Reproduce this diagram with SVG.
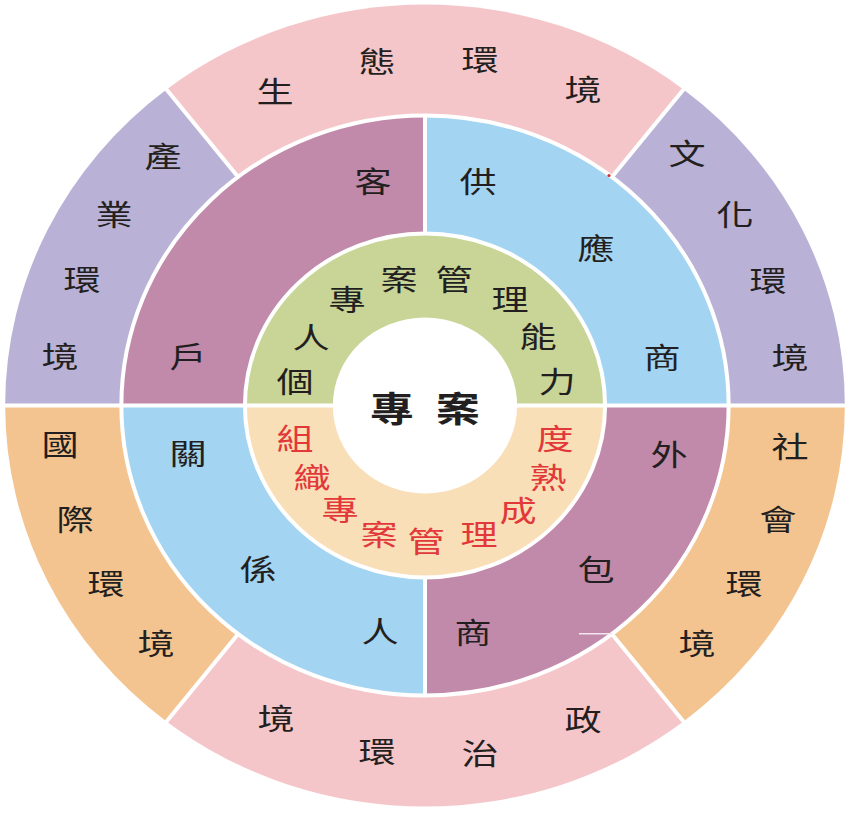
<svg xmlns="http://www.w3.org/2000/svg" width="850" height="813" viewBox="0 0 850 813">
<style>
.t{font-family:"Noto Sans CJK TC","Noto Sans CJK SC",sans-serif;font-size:29px;fill:#231F20;text-anchor:middle;dominant-baseline:central}
.r{fill:#E2383A}
.c{font-size:35px;font-weight:700}
.gap{fill:none;stroke:#FFFFFF;stroke-width:4;vector-effect:non-scaling-stroke}
.pink{fill:#F5C6C9}.lav{fill:#B9B2D6}.org{fill:#F3C48F}.mauve{fill:#C28AAA}.blue{fill:#A3D4F2}.green{fill:#C9D597}.peach{fill:#F9DFB7}
</style>
<rect width="850" height="813" fill="#FFFFFF"/>
<g id="shapes" transform="translate(425,405.5) scale(1.047,1)">
  <path id="outer-top" class="pink" d="M0,0 L-246.9,-316 A401,401 0 0 1 246.9,-316 Z"/>
  <path id="outer-upper-right" class="lav" d="M0,0 L246.9,-316 A401,401 0 0 1 401,0 Z"/>
  <path id="outer-lower-right" class="org" d="M0,0 L401,0 A401,401 0 0 1 246.9,316 Z"/>
  <path id="outer-bottom" class="pink" d="M0,0 L246.9,316 A401,401 0 0 1 -246.9,316 Z"/>
  <path id="outer-lower-left" class="org" d="M0,0 L-246.9,316 A401,401 0 0 1 -401,0 Z"/>
  <path id="outer-upper-left" class="lav" d="M0,0 L-401,0 A401,401 0 0 1 -246.9,-316 Z"/>
  <path id="mid-tl" class="mauve" d="M0,0 L-290,0 A290,290 0 0 1 0,-290 Z"/>
  <path id="mid-tr" class="blue" d="M0,0 L0,-290 A290,290 0 0 1 290,0 Z"/>
  <path id="mid-br" class="mauve" d="M0,0 L290,0 A290,290 0 0 1 0,290 Z"/>
  <path id="mid-bl" class="blue" d="M0,0 L0,290 A290,290 0 0 1 -290,0 Z"/>
  <path id="inner-top" class="green" d="M-172,0 A172,172 0 0 1 172,0 Z"/>
  <path id="inner-bottom" class="peach" d="M172,0 A172,172 0 0 1 -172,0 Z"/>
  <g id="dividers">
    <circle class="gap" r="290"/>
    <circle class="gap" r="172"/>
    <path class="gap" d="M-410,0 H410"/>
    <path class="gap" d="M0,-290 V-172 M0,172 V290"/>
    <path class="gap" d="M178.5,-228.5 L249.4,-319.2 M178.5,228.5 L249.4,319.2 M-178.5,228.5 L-249.4,319.2 M-178.5,-228.5 L-249.4,-319.2"/>
  </g>
  <circle id="center-disc" r="88" fill="#FFFFFF"/>
</g>
<path d="M579,633.7 H612" stroke="#F3E4EE" stroke-width="1.5"/>
<circle cx="609" cy="175.5" r="1.6" fill="#D03030"/>
<g id="node-ecology">
  <text class="t" transform="translate(275,90) scale(1.28,1)">生</text>
  <text class="t" transform="translate(377,60) scale(1.28,1)">態</text>
  <text class="t" transform="translate(480,58) scale(1.28,1)">環</text>
  <text class="t" transform="translate(583,88) scale(1.28,1)">境</text>
</g>
<g id="node-culture">
  <text class="t" transform="translate(687,152) scale(1.28,1)">文</text>
  <text class="t" transform="translate(735,213) scale(1.28,1)">化</text>
  <text class="t" transform="translate(768,279) scale(1.28,1)">環</text>
  <text class="t" transform="translate(790,356) scale(1.28,1)">境</text>
</g>
<g id="node-society">
  <text class="t" transform="translate(790,445) scale(1.28,1)">社</text>
  <text class="t" transform="translate(778,518) scale(1.28,1)">會</text>
  <text class="t" transform="translate(744,582) scale(1.28,1)">環</text>
  <text class="t" transform="translate(697,642) scale(1.28,1)">境</text>
</g>
<g id="node-politics">
  <text class="t" transform="translate(583,718) scale(1.28,1)">政</text>
  <text class="t" transform="translate(480,752) scale(1.28,1)">治</text>
  <text class="t" transform="translate(377,750) scale(1.28,1)">環</text>
  <text class="t" transform="translate(276,717) scale(1.28,1)">境</text>
</g>
<g id="node-international">
  <text class="t" transform="translate(60,443) scale(1.28,1)">國</text>
  <text class="t" transform="translate(75,518) scale(1.28,1)">際</text>
  <text class="t" transform="translate(106,582) scale(1.28,1)">環</text>
  <text class="t" transform="translate(156,642) scale(1.28,1)">境</text>
</g>
<g id="node-industry">
  <text class="t" transform="translate(163,155) scale(1.28,1)">產</text>
  <text class="t" transform="translate(114,213) scale(1.28,1)">業</text>
  <text class="t" transform="translate(82,278) scale(1.28,1)">環</text>
  <text class="t" transform="translate(60,355) scale(1.28,1)">境</text>
</g>
<g id="node-customer">
  <text class="t" transform="translate(373,180) scale(1.28,1)">客</text>
  <text class="t" transform="translate(188,355) scale(1.28,1)">戶</text>
</g>
<g id="node-supplier">
  <text class="t" transform="translate(478,180) scale(1.28,1)">供</text>
  <text class="t" transform="translate(596,247) scale(1.28,1)">應</text>
  <text class="t" transform="translate(662,356) scale(1.28,1)">商</text>
</g>
<g id="node-outsourcer">
  <text class="t" transform="translate(669,453) scale(1.28,1)">外</text>
  <text class="t" transform="translate(596,568) scale(1.28,1)">包</text>
  <text class="t" transform="translate(473,631) scale(1.28,1)">商</text>
</g>
<g id="node-stakeholder">
  <text class="t" transform="translate(188,452) scale(1.28,1)">關</text>
  <text class="t" transform="translate(258,568) scale(1.28,1)">係</text>
  <text class="t" transform="translate(380,630) scale(1.28,1)">人</text>
</g>
<g id="node-personal">
  <text class="t" transform="translate(295,380) scale(1.28,1)">個</text>
  <text class="t" transform="translate(311,336) scale(1.28,1)">人</text>
  <text class="t" transform="translate(347,298) scale(1.28,1)">專</text>
  <text class="t" transform="translate(399,278) scale(1.28,1)">案</text>
  <text class="t" transform="translate(454,278) scale(1.28,1)">管</text>
  <text class="t" transform="translate(510,298) scale(1.28,1)">理</text>
  <text class="t" transform="translate(538,335) scale(1.28,1)">能</text>
  <text class="t" transform="translate(557,380) scale(1.28,1)">力</text>
</g>
<g id="node-organization">
  <text class="t r" transform="translate(295,437) scale(1.28,1)">組</text>
  <text class="t r" transform="translate(312,476) scale(1.28,1)">織</text>
  <text class="t r" transform="translate(340,508) scale(1.28,1)">專</text>
  <text class="t r" transform="translate(379,533) scale(1.28,1)">案</text>
  <text class="t r" transform="translate(426,540) scale(1.28,1)">管</text>
  <text class="t r" transform="translate(479,533) scale(1.28,1)">理</text>
  <text class="t r" transform="translate(518,509) scale(1.28,1)">成</text>
  <text class="t r" transform="translate(548,476) scale(1.28,1)">熟</text>
  <text class="t r" transform="translate(555,437) scale(1.28,1)">度</text>
</g>
<g id="node-center">
  <text class="t c" transform="translate(392,407) scale(1.25,1)">專</text>
  <text class="t c" transform="translate(458,407) scale(1.25,1)">案</text>
</g>
</svg>
